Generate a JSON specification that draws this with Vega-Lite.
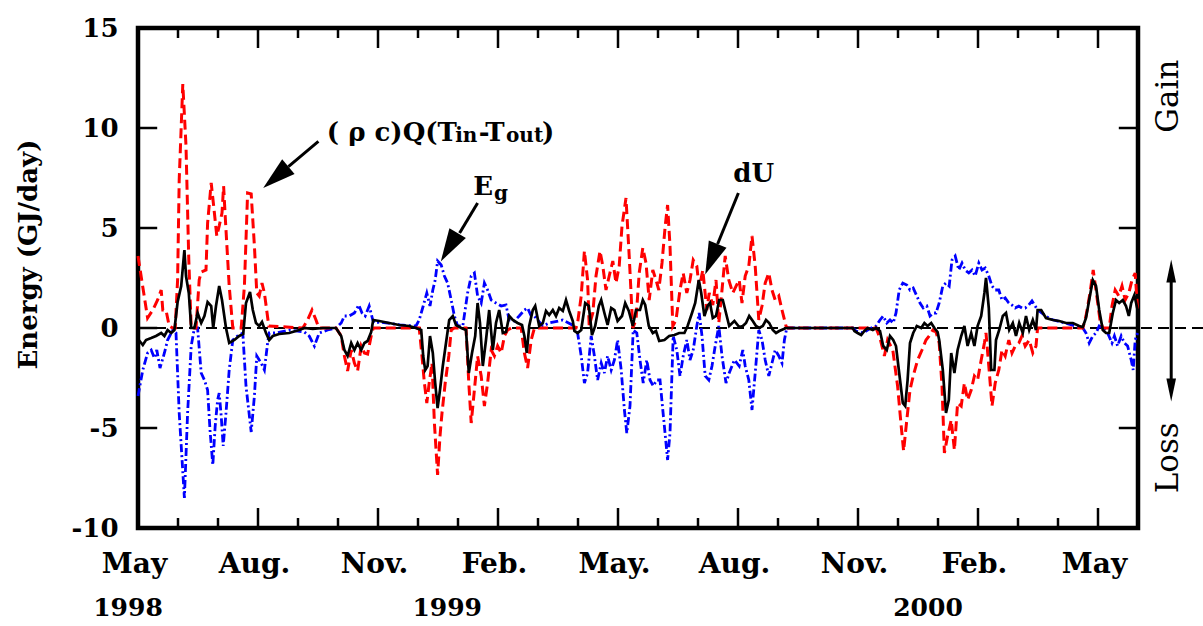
{
"$schema": "https://vega.github.io/schema/vega-lite/v6.json",
"width": 1000, "height": 500,
"autosize": {"type": "none"},
"padding": {"left": 138, "top": 28, "right": 65, "bottom": 98},
"background": "white",
"config": {"view": {"stroke": "black", "strokeWidth": 4.5}, "font": "DejaVu Serif"},
"datasets": {
"zero": [{"m":0,"v":0},{"m":26.63,"v":0}],
"months": [{"m":0},{"m":1},{"m":2},{"m":3},{"m":4},{"m":5},{"m":6},{"m":7},{"m":8},{"m":9},{"m":10},{"m":11},{"m":12},{"m":13},{"m":14},{"m":15},{"m":16},{"m":17},{"m":18},{"m":19},{"m":20},{"m":21},{"m":22},{"m":23},{"m":24},{"m":25}],
"yt": [{"v":-5},{"v":0},{"v":5},{"v":10}],
"red": [{"m":0,"v":3.6},{"m":0.24,"v":0.5},{"m":0.37,"v":0.9},{"m":0.49,"v":1.4},{"m":0.58,"v":1.9},{"m":0.62,"v":0.9},{"m":0.70,"v":0.9},{"m":0.78,"v":0.1},{"m":0.87,"v":0},{"m":0.93,"v":0},{"m":0.99,"v":2.4},{"m":1.03,"v":7.4},{"m":1.12,"v":12.2},{"m":1.20,"v":9.1},{"m":1.27,"v":3.4},{"m":1.33,"v":0},{"m":1.45,"v":0},{"m":1.53,"v":2.4},{"m":1.58,"v":2.8},{"m":1.70,"v":2.9},{"m":1.74,"v":5.25},{"m":1.83,"v":7.25},{"m":1.91,"v":5.75},{"m":1.97,"v":4.6},{"m":2.03,"v":5.1},{"m":2.10,"v":5.75},{"m":2.14,"v":7.1},{"m":2.18,"v":5.6},{"m":2.28,"v":2.1},{"m":2.37,"v":0},{"m":2.58,"v":0},{"m":2.66,"v":2.1},{"m":2.74,"v":6.75},{"m":2.83,"v":6.7},{"m":2.91,"v":4.1},{"m":2.97,"v":1.75},{"m":3.03,"v":1.6},{"m":3.10,"v":2.25},{"m":3.16,"v":1.75},{"m":3.27,"v":0.1},{"m":4.12,"v":0},{"m":4.24,"v":0.4},{"m":4.35,"v":0.9},{"m":4.45,"v":0.4},{"m":4.52,"v":0},{"m":4.95,"v":0},{"m":5.08,"v":-0.4},{"m":5.16,"v":-1.4},{"m":5.24,"v":-2.15},{"m":5.33,"v":-1.1},{"m":5.41,"v":-1.75},{"m":5.49,"v":-2.15},{"m":5.58,"v":-0.9},{"m":5.66,"v":-1.25},{"m":5.74,"v":-1.3},{"m":5.83,"v":-0.4},{"m":5.88,"v":0},{"m":7.03,"v":0},{"m":7.10,"v":-1.4},{"m":7.16,"v":-2.75},{"m":7.22,"v":-3.75},{"m":7.28,"v":-2.75},{"m":7.35,"v":-1.75},{"m":7.41,"v":-4.75},{"m":7.49,"v":-7.35},{"m":7.55,"v":-5.4},{"m":7.60,"v":-4.25},{"m":7.68,"v":-2.75},{"m":7.77,"v":-1.4},{"m":7.83,"v":-0.1},{"m":7.91,"v":0},{"m":8.20,"v":0},{"m":8.27,"v":-2.75},{"m":8.33,"v":-4.75},{"m":8.41,"v":-3.1},{"m":8.49,"v":-1.4},{"m":8.58,"v":-2.4},{"m":8.66,"v":-3.9},{"m":8.74,"v":-2.75},{"m":8.83,"v":-1.1},{"m":8.91,"v":-1.4},{"m":8.99,"v":-0.9},{"m":9.08,"v":-1.25},{"m":9.16,"v":-0.4},{"m":9.24,"v":-0.1},{"m":9.33,"v":0},{"m":9.58,"v":0},{"m":9.66,"v":-1.25},{"m":9.74,"v":-2.0},{"m":9.83,"v":-0.6},{"m":9.91,"v":0},{"m":10.95,"v":0},{"m":10.99,"v":0.25},{"m":11.08,"v":1.6},{"m":11.16,"v":3.85},{"m":11.24,"v":2.4},{"m":11.28,"v":0.1},{"m":11.37,"v":0.75},{"m":11.45,"v":2.6},{"m":11.55,"v":3.85},{"m":11.62,"v":3.1},{"m":11.70,"v":1.9},{"m":11.78,"v":2.6},{"m":11.87,"v":3.35},{"m":11.95,"v":2.25},{"m":12.03,"v":3.1},{"m":12.10,"v":5.1},{"m":12.20,"v":6.5},{"m":12.28,"v":3.6},{"m":12.37,"v":0},{"m":12.45,"v":0.4},{"m":12.53,"v":2.75},{"m":12.62,"v":4.0},{"m":12.70,"v":3.25},{"m":12.78,"v":1.4},{"m":12.87,"v":2.9},{"m":12.95,"v":2.4},{"m":13.02,"v":1.9},{"m":13.10,"v":3.25},{"m":13.18,"v":5.1},{"m":13.24,"v":6.15},{"m":13.30,"v":4.1},{"m":13.37,"v":0.1},{"m":13.45,"v":0.4},{"m":13.55,"v":1.9},{"m":13.63,"v":2.75},{"m":13.72,"v":1.75},{"m":13.80,"v":2.4},{"m":13.88,"v":3.4},{"m":13.97,"v":3.1},{"m":14.03,"v":2.0},{"m":14.12,"v":2.9},{"m":14.22,"v":0.9},{"m":14.28,"v":1.75},{"m":14.37,"v":1.15},{"m":14.45,"v":2.4},{"m":14.52,"v":0.25},{"m":14.60,"v":1.9},{"m":14.68,"v":3.6},{"m":14.77,"v":2.4},{"m":14.87,"v":1.75},{"m":14.99,"v":2.25},{"m":15.03,"v":2.4},{"m":15.10,"v":1.25},{"m":15.18,"v":2.6},{"m":15.27,"v":3.1},{"m":15.35,"v":4.6},{"m":15.43,"v":3.1},{"m":15.52,"v":0.4},{"m":15.60,"v":1.1},{"m":15.68,"v":2.25},{"m":15.77,"v":2.75},{"m":15.85,"v":1.9},{"m":15.93,"v":1.4},{"m":16.02,"v":1.6},{"m":16.10,"v":0.9},{"m":16.20,"v":0.1},{"m":16.25,"v":0},{"m":18.37,"v":0},{"m":18.45,"v":0},{"m":18.55,"v":-0.5},{"m":18.66,"v":-1.4},{"m":18.74,"v":-0.6},{"m":18.87,"v":-1.1},{"m":18.99,"v":-2.9},{"m":19.08,"v":-4.9},{"m":19.14,"v":-6.15},{"m":19.22,"v":-4.6},{"m":19.30,"v":-3.1},{"m":19.38,"v":-2.4},{"m":19.49,"v":-1.6},{"m":19.60,"v":-1.1},{"m":19.70,"v":-0.6},{"m":19.78,"v":-0.4},{"m":19.87,"v":-0.1},{"m":19.95,"v":-0.2},{"m":20.03,"v":-0.75},{"m":20.10,"v":-2.9},{"m":20.16,"v":-6.25},{"m":20.24,"v":-5.4},{"m":20.33,"v":-4.6},{"m":20.41,"v":-6.1},{"m":20.49,"v":-3.75},{"m":20.58,"v":-3.9},{"m":20.66,"v":-2.75},{"m":20.74,"v":-3.6},{"m":20.83,"v":-3.1},{"m":20.91,"v":-2.4},{"m":20.99,"v":-2.6},{"m":21.08,"v":-1.6},{"m":21.16,"v":-0.75},{"m":21.20,"v":-0.25},{"m":21.27,"v":-1.9},{"m":21.35,"v":-3.9},{"m":21.43,"v":-2.75},{"m":21.52,"v":-2.1},{"m":21.60,"v":-1.1},{"m":21.68,"v":-1.4},{"m":21.77,"v":-0.6},{"m":21.85,"v":-1.25},{"m":21.93,"v":-0.9},{"m":22.02,"v":-0.75},{"m":22.10,"v":-0.4},{"m":22.18,"v":-0.9},{"m":22.28,"v":-0.6},{"m":22.37,"v":-1.25},{"m":22.45,"v":-0.9},{"m":22.49,"v":0},{"m":23.62,"v":0},{"m":23.70,"v":0.6},{"m":23.80,"v":1.75},{"m":23.88,"v":2.9},{"m":23.97,"v":1.6},{"m":24.05,"v":0.4},{"m":24.12,"v":0},{"m":24.28,"v":0},{"m":24.35,"v":1.1},{"m":24.43,"v":1.9},{"m":24.52,"v":1.6},{"m":24.60,"v":2.1},{"m":24.68,"v":1.4},{"m":24.77,"v":1.75},{"m":24.85,"v":2.4},{"m":24.93,"v":2.75},{"m":24.99,"v":0.9}],
"blue": [{"m":0,"v":-3.4},{"m":0.12,"v":-2.1},{"m":0.24,"v":-1.25},{"m":0.33,"v":-1.1},{"m":0.41,"v":-1.5},{"m":0.47,"v":-1.1},{"m":0.55,"v":-2.0},{"m":0.66,"v":-1.25},{"m":0.74,"v":-0.6},{"m":0.87,"v":-0.1},{"m":0.95,"v":-0.25},{"m":1.03,"v":-4.25},{"m":1.16,"v":-8.5},{"m":1.24,"v":-4.25},{"m":1.33,"v":-0.9},{"m":1.41,"v":0},{"m":1.49,"v":0},{"m":1.58,"v":-2.25},{"m":1.66,"v":-2.6},{"m":1.74,"v":-3.1},{"m":1.80,"v":-5.1},{"m":1.87,"v":-6.85},{"m":1.93,"v":-4.9},{"m":1.99,"v":-3.6},{"m":2.03,"v":-3.25},{"m":2.08,"v":-4.4},{"m":2.13,"v":-5.9},{"m":2.20,"v":-4.25},{"m":2.28,"v":-2.1},{"m":2.37,"v":-0.6},{"m":2.49,"v":-0.4},{"m":2.62,"v":-0.25},{"m":2.70,"v":-2.9},{"m":2.83,"v":-5.2},{"m":2.91,"v":-3.4},{"m":2.97,"v":-1.4},{"m":3.08,"v":-1.75},{"m":3.16,"v":-2.1},{"m":3.24,"v":-0.75},{"m":3.28,"v":-0.25},{"m":3.45,"v":-0.25},{"m":3.78,"v":-0.1},{"m":4.16,"v":-0.2},{"m":4.28,"v":-0.4},{"m":4.41,"v":-0.9},{"m":4.53,"v":-0.25},{"m":4.74,"v":-0.1},{"m":4.95,"v":0},{"m":5.08,"v":0.25},{"m":5.16,"v":0.6},{"m":5.28,"v":0.6},{"m":5.41,"v":0.75},{"m":5.52,"v":1.15},{"m":5.60,"v":0.75},{"m":5.68,"v":0.6},{"m":5.78,"v":1.1},{"m":5.87,"v":0.4},{"m":5.91,"v":0.25},{"m":6.05,"v":0.3},{"m":6.55,"v":0.15},{"m":6.95,"v":0.1},{"m":7.03,"v":0.4},{"m":7.13,"v":1.1},{"m":7.22,"v":1.75},{"m":7.30,"v":1.1},{"m":7.37,"v":1.9},{"m":7.43,"v":2.4},{"m":7.49,"v":3.35},{"m":7.58,"v":3.15},{"m":7.66,"v":2.6},{"m":7.74,"v":2.25},{"m":7.83,"v":1.4},{"m":7.91,"v":0.6},{"m":7.99,"v":0.1},{"m":8.12,"v":0.1},{"m":8.24,"v":1.75},{"m":8.33,"v":2.6},{"m":8.41,"v":2.75},{"m":8.49,"v":1.6},{"m":8.58,"v":1.25},{"m":8.66,"v":2.25},{"m":8.74,"v":1.9},{"m":8.83,"v":1.4},{"m":8.95,"v":1.25},{"m":9.08,"v":1.1},{"m":9.20,"v":1.15},{"m":9.28,"v":0.4},{"m":9.41,"v":0.35},{"m":9.53,"v":0.6},{"m":9.66,"v":0.9},{"m":9.74,"v":1.0},{"m":9.83,"v":0.6},{"m":9.91,"v":0.6},{"m":9.99,"v":0.4},{"m":10.12,"v":0.1},{"m":10.28,"v":0.25},{"m":10.62,"v":0.4},{"m":10.91,"v":0.1},{"m":10.99,"v":-0.25},{"m":11.08,"v":-1.4},{"m":11.16,"v":-2.75},{"m":11.24,"v":-2.25},{"m":11.33,"v":-0.4},{"m":11.41,"v":-1.4},{"m":11.49,"v":-2.6},{"m":11.58,"v":-1.75},{"m":11.66,"v":-2.25},{"m":11.74,"v":-1.4},{"m":11.83,"v":-2.1},{"m":11.91,"v":-1.6},{"m":11.99,"v":-0.6},{"m":12.08,"v":-2.1},{"m":12.16,"v":-4.1},{"m":12.22,"v":-5.25},{"m":12.30,"v":-3.9},{"m":12.38,"v":-0.1},{"m":12.47,"v":-0.25},{"m":12.55,"v":-1.6},{"m":12.63,"v":-2.75},{"m":12.72,"v":-1.6},{"m":12.80,"v":-2.6},{"m":12.88,"v":-2.9},{"m":12.97,"v":-2.6},{"m":13.05,"v":-2.6},{"m":13.12,"v":-4.1},{"m":13.20,"v":-5.75},{"m":13.24,"v":-6.6},{"m":13.30,"v":-5.25},{"m":13.38,"v":-0.4},{"m":13.47,"v":-1.1},{"m":13.55,"v":-2.4},{"m":13.63,"v":-1.4},{"m":13.72,"v":-0.6},{"m":13.80,"v":-1.6},{"m":13.88,"v":-1.1},{"m":13.97,"v":0.1},{"m":14.03,"v":0.75},{"m":14.10,"v":-0.4},{"m":14.18,"v":-2.4},{"m":14.27,"v":-2.6},{"m":14.35,"v":-1.9},{"m":14.43,"v":-0.9},{"m":14.52,"v":0.1},{"m":14.60,"v":-1.4},{"m":14.70,"v":-2.75},{"m":14.78,"v":-2.25},{"m":14.91,"v":-1.6},{"m":15.03,"v":-1.9},{"m":15.12,"v":-1.1},{"m":15.18,"v":-1.9},{"m":15.27,"v":-2.6},{"m":15.35,"v":-4.1},{"m":15.43,"v":-2.25},{"m":15.52,"v":-0.1},{"m":15.60,"v":-0.6},{"m":15.68,"v":-1.6},{"m":15.77,"v":-2.4},{"m":15.85,"v":-1.75},{"m":15.93,"v":-1.1},{"m":16.02,"v":-1.4},{"m":16.10,"v":-1.75},{"m":16.16,"v":-0.6},{"m":16.22,"v":0},{"m":17.87,"v":0},{"m":17.95,"v":-0.15},{"m":18.12,"v":-0.25},{"m":18.28,"v":-0.05},{"m":18.45,"v":0.1},{"m":18.55,"v":0.4},{"m":18.63,"v":0.6},{"m":18.72,"v":0.25},{"m":18.80,"v":0.4},{"m":18.88,"v":0.25},{"m":18.95,"v":0.75},{"m":19.03,"v":1.9},{"m":19.12,"v":2.25},{"m":19.22,"v":2.15},{"m":19.30,"v":1.9},{"m":19.38,"v":2.0},{"m":19.47,"v":1.6},{"m":19.55,"v":1.25},{"m":19.63,"v":1.0},{"m":19.72,"v":1.1},{"m":19.80,"v":0.6},{"m":19.88,"v":0.75},{"m":19.95,"v":0.75},{"m":20.03,"v":1.25},{"m":20.12,"v":2.1},{"m":20.20,"v":2.25},{"m":20.28,"v":2.1},{"m":20.35,"v":3.4},{"m":20.43,"v":3.6},{"m":20.52,"v":2.9},{"m":20.60,"v":3.25},{"m":20.68,"v":2.9},{"m":20.77,"v":2.75},{"m":20.85,"v":2.9},{"m":20.93,"v":2.6},{"m":21.02,"v":3.25},{"m":21.10,"v":2.9},{"m":21.18,"v":3.0},{"m":21.27,"v":2.6},{"m":21.35,"v":2.1},{"m":21.43,"v":1.9},{"m":21.52,"v":1.9},{"m":21.60,"v":1.4},{"m":21.68,"v":1.5},{"m":21.77,"v":1.25},{"m":21.85,"v":1.15},{"m":21.93,"v":1.0},{"m":22.02,"v":1.1},{"m":22.10,"v":1.0},{"m":22.18,"v":1.0},{"m":22.27,"v":1.15},{"m":22.35,"v":1.35},{"m":22.43,"v":1.1},{"m":22.49,"v":0.9},{"m":22.80,"v":0.45},{"m":23.18,"v":0.25},{"m":23.62,"v":0},{"m":23.70,"v":-0.25},{"m":23.78,"v":-0.75},{"m":23.87,"v":-0.4},{"m":23.95,"v":-0.25},{"m":24.03,"v":0.1},{"m":24.12,"v":0},{"m":24.24,"v":-0.25},{"m":24.35,"v":-0.75},{"m":24.41,"v":-0.4},{"m":24.49,"v":-0.9},{"m":24.58,"v":-0.4},{"m":24.66,"v":-0.75},{"m":24.74,"v":-0.9},{"m":24.83,"v":-1.6},{"m":24.88,"v":-2.1},{"m":24.93,"v":-0.6},{"m":24.99,"v":-0.25}],
"black": [{"m":0.02,"v":-0.6},{"m":0.12,"v":-0.85},{"m":0.20,"v":-0.6},{"m":0.33,"v":-0.5},{"m":0.45,"v":-0.4},{"m":0.58,"v":-0.25},{"m":0.66,"v":-0.4},{"m":0.74,"v":-0.1},{"m":0.83,"v":-0.25},{"m":0.91,"v":-0.1},{"m":0.99,"v":1.3},{"m":1.08,"v":2.1},{"m":1.16,"v":3.9},{"m":1.20,"v":2.6},{"m":1.27,"v":1.75},{"m":1.33,"v":0},{"m":1.41,"v":0},{"m":1.49,"v":0.75},{"m":1.58,"v":0.25},{"m":1.66,"v":0.6},{"m":1.74,"v":1.3},{"m":1.83,"v":1.1},{"m":1.88,"v":0},{"m":1.95,"v":1.1},{"m":2.03,"v":2.1},{"m":2.10,"v":1.4},{"m":2.20,"v":0},{"m":2.28,"v":-0.75},{"m":2.41,"v":-0.6},{"m":2.53,"v":-0.4},{"m":2.63,"v":-0.3},{"m":2.70,"v":1.25},{"m":2.80,"v":1.8},{"m":2.87,"v":0.9},{"m":2.95,"v":0.25},{"m":3.03,"v":0.1},{"m":3.10,"v":0.3},{"m":3.20,"v":-0.25},{"m":3.28,"v":-0.6},{"m":3.37,"v":-0.4},{"m":3.53,"v":-0.3},{"m":3.78,"v":-0.25},{"m":4.03,"v":-0.1},{"m":4.16,"v":0},{"m":4.37,"v":-0.05},{"m":4.62,"v":0},{"m":4.95,"v":0},{"m":5.08,"v":-0.4},{"m":5.16,"v":-1.1},{"m":5.24,"v":-1.4},{"m":5.33,"v":-0.75},{"m":5.41,"v":-1.1},{"m":5.49,"v":-0.75},{"m":5.58,"v":-1.1},{"m":5.66,"v":-0.75},{"m":5.74,"v":-0.65},{"m":5.83,"v":-0.2},{"m":5.88,"v":0.4},{"m":6.03,"v":0.35},{"m":6.28,"v":0.25},{"m":6.53,"v":0.15},{"m":6.78,"v":0.1},{"m":6.95,"v":0},{"m":7.08,"v":-0.1},{"m":7.13,"v":-1.4},{"m":7.18,"v":-2.1},{"m":7.24,"v":-1.9},{"m":7.30,"v":-0.4},{"m":7.37,"v":-1.25},{"m":7.43,"v":-2.75},{"m":7.49,"v":-4.0},{"m":7.55,"v":-3.1},{"m":7.62,"v":-1.9},{"m":7.70,"v":-0.75},{"m":7.78,"v":0.4},{"m":7.87,"v":0.6},{"m":7.95,"v":0.15},{"m":8.08,"v":0},{"m":8.20,"v":-0.1},{"m":8.27,"v":-2.25},{"m":8.35,"v":-1.25},{"m":8.43,"v":-0.4},{"m":8.49,"v":1.25},{"m":8.55,"v":0.25},{"m":8.62,"v":-1.9},{"m":8.70,"v":-0.6},{"m":8.78,"v":0.9},{"m":8.87,"v":-1.1},{"m":8.95,"v":0.25},{"m":9.03,"v":0.9},{"m":9.12,"v":-0.25},{"m":9.20,"v":-0.2},{"m":9.28,"v":0.6},{"m":9.37,"v":0.4},{"m":9.49,"v":0.25},{"m":9.60,"v":0.15},{"m":9.66,"v":-0.4},{"m":9.72,"v":-1.25},{"m":9.78,"v":0.1},{"m":9.87,"v":0.9},{"m":9.93,"v":1.1},{"m":10.03,"v":0.1},{"m":10.12,"v":0.25},{"m":10.20,"v":0.85},{"m":10.28,"v":0.65},{"m":10.37,"v":0.9},{"m":10.45,"v":0.6},{"m":10.53,"v":1.0},{"m":10.62,"v":0.85},{"m":10.70,"v":1.4},{"m":10.78,"v":0.85},{"m":10.87,"v":0.35},{"m":10.91,"v":-0.15},{"m":10.99,"v":-0.25},{"m":11.08,"v":-0.1},{"m":11.18,"v":1.25},{"m":11.27,"v":1.1},{"m":11.35,"v":-0.35},{"m":11.43,"v":0.1},{"m":11.52,"v":1.1},{"m":11.58,"v":1.4},{"m":11.66,"v":0.75},{"m":11.74,"v":0.15},{"m":11.83,"v":1.0},{"m":11.91,"v":0.9},{"m":11.99,"v":0.35},{"m":12.10,"v":0.6},{"m":12.18,"v":1.25},{"m":12.27,"v":0.85},{"m":12.37,"v":0.1},{"m":12.45,"v":0.9},{"m":12.55,"v":0.9},{"m":12.62,"v":1.4},{"m":12.68,"v":1.15},{"m":12.77,"v":0.1},{"m":12.87,"v":-0.25},{"m":12.95,"v":-0.15},{"m":13.03,"v":-0.65},{"m":13.16,"v":-0.6},{"m":13.28,"v":-0.4},{"m":13.41,"v":-0.35},{"m":13.53,"v":-0.25},{"m":13.66,"v":-0.25},{"m":13.74,"v":0.1},{"m":13.85,"v":0.75},{"m":13.93,"v":1.25},{"m":14.02,"v":2.4},{"m":14.08,"v":1.75},{"m":14.16,"v":0.6},{"m":14.24,"v":1.1},{"m":14.30,"v":1.25},{"m":14.37,"v":0.5},{"m":14.45,"v":0.6},{"m":14.53,"v":1.4},{"m":14.62,"v":1.4},{"m":14.70,"v":0.75},{"m":14.78,"v":0.1},{"m":14.91,"v":0.35},{"m":15.03,"v":0.05},{"m":15.12,"v":0.1},{"m":15.20,"v":0.25},{"m":15.28,"v":0.6},{"m":15.37,"v":0.35},{"m":15.45,"v":0.1},{"m":15.53,"v":0},{"m":15.62,"v":0.1},{"m":15.70,"v":0.4},{"m":15.78,"v":0.25},{"m":15.87,"v":-0.1},{"m":15.95,"v":-0.25},{"m":16.03,"v":-0.15},{"m":16.20,"v":0},{"m":17.87,"v":0},{"m":17.91,"v":-0.15},{"m":17.99,"v":-0.25},{"m":18.08,"v":-0.35},{"m":18.16,"v":-0.15},{"m":18.24,"v":0},{"m":18.37,"v":-0.1},{"m":18.45,"v":0},{"m":18.55,"v":-0.15},{"m":18.63,"v":-0.9},{"m":18.72,"v":-1.1},{"m":18.80,"v":-0.4},{"m":18.88,"v":-0.6},{"m":18.95,"v":-0.9},{"m":19.03,"v":-2.25},{"m":19.12,"v":-3.75},{"m":19.18,"v":-3.9},{"m":19.24,"v":-2.6},{"m":19.30,"v":-0.75},{"m":19.38,"v":-0.25},{"m":19.47,"v":0.1},{"m":19.58,"v":0},{"m":19.66,"v":0.25},{"m":19.74,"v":0.1},{"m":19.83,"v":0.25},{"m":19.91,"v":0},{"m":19.99,"v":-0.2},{"m":20.03,"v":-0.6},{"m":20.12,"v":-2.1},{"m":20.20,"v":-4.25},{"m":20.27,"v":-3.6},{"m":20.33,"v":-1.25},{"m":20.41,"v":-2.25},{"m":20.49,"v":-1.1},{"m":20.58,"v":-0.4},{"m":20.66,"v":0.1},{"m":20.74,"v":-0.9},{"m":20.83,"v":-0.25},{"m":20.91,"v":-0.9},{"m":20.99,"v":0.1},{"m":21.08,"v":0.6},{"m":21.16,"v":1.75},{"m":21.20,"v":2.5},{"m":21.27,"v":1.0},{"m":21.33,"v":-2.1},{"m":21.41,"v":-2.1},{"m":21.45,"v":-0.6},{"m":21.53,"v":-0.1},{"m":21.62,"v":0.6},{"m":21.70,"v":0.75},{"m":21.78,"v":-0.1},{"m":21.87,"v":0.25},{"m":21.95,"v":-0.4},{"m":22.03,"v":0.25},{"m":22.12,"v":-0.25},{"m":22.20,"v":0.6},{"m":22.28,"v":-0.1},{"m":22.37,"v":0.4},{"m":22.45,"v":-0.1},{"m":22.49,"v":0.9},{"m":22.58,"v":0.9},{"m":22.70,"v":0.5},{"m":22.87,"v":0.4},{"m":23.03,"v":0.35},{"m":23.20,"v":0.25},{"m":23.37,"v":0.25},{"m":23.53,"v":0.1},{"m":23.62,"v":0.05},{"m":23.70,"v":0.5},{"m":23.78,"v":1.4},{"m":23.87,"v":2.4},{"m":23.95,"v":2.1},{"m":24.03,"v":0.9},{"m":24.12,"v":-0.1},{"m":24.20,"v":-0.25},{"m":24.28,"v":-0.25},{"m":24.37,"v":0.75},{"m":24.45,"v":1.4},{"m":24.53,"v":1.25},{"m":24.62,"v":1.4},{"m":24.70,"v":1.1},{"m":24.77,"v":0.6},{"m":24.83,"v":1.25},{"m":24.91,"v":1.65},{"m":24.99,"v":0.9}],
"annBig": [{"m":4.72,"v":9.34,"t":"( ρ c)Q(T"},{"m":8.52,"v":9.34,"t":"-T"},{"m":10.1,"v":9.34,"t":")"},{"m":8.38,"v":6.67,"t":"E"},{"m":14.88,"v":7.32,"t":"dU"}],
"annSub": [{"m":7.93,"v":9.3,"t":"in"},{"m":9.2,"v":9.3,"t":"out"},{"m":8.9,"v":6.42,"t":"g"}],
"years": [{"m":-0.25,"v":-13.99,"t":"1998"},{"m":7.73,"v":-13.99,"t":"1999"},{"m":19.75,"v":-13.99,"t":"2000"}],
"side": [{"m":25.78,"v":11.59,"t":"Gain"},{"m":25.78,"v":-6.49,"t":"Loss"}],
"shafts": [{"m0":4.51,"v0":9.33,"m1":3.76,"v1":8.07},{"m0":8.49,"v0":6.25,"m1":8.04,"v1":4.75},{"m0":15.01,"v0":6.75,"m1":14.49,"v1":4.2},{"m0":25.83,"v0":2.3,"m1":25.83,"v1":-2.55}],
"heads": [{"id":"a1","m":3.13,"v":7.0},{"id":"a2","m":7.57,"v":3.33},{"id":"a3","m":14.18,"v":2.67},{"id":"up","m":25.83,"v":3.42},{"id":"down","m":25.83,"v":-3.67}]
},
"layer": [
{"data": {"name": "zero"},
 "mark": {"type": "line", "color": "black", "strokeWidth": 2, "strokeDash": [11, 6], "clip": false},
 "encoding": {
  "x": {"field": "m", "type": "quantitative", "scale": {"domain": [0, 25], "nice": false, "zero": false},
   "axis": {"values": [0,3,6,9,12,15,18,21,24], "labelExpr": "['May','Aug.','Nov.','Feb.','May.','Aug.','Nov.','Feb.','May'][round(datum.value/3)]", "ticks": false, "domain": false, "grid": false, "title": null, "labelFont": "DejaVu Serif", "labelFontWeight": "bold", "labelFontSize": 28, "labelColor": "black", "labelPadding": 22, "labelFlush": false, "labelOverlap": false, "labelOffset": -4}},
  "y": {"field": "v", "type": "quantitative", "scale": {"domain": [-10, 15], "nice": false, "zero": false},
   "axis": {"values": [-10,-5,0,5,10,15], "labelExpr": "'' + datum.value", "ticks": false, "domain": false, "grid": false, "title": "Energy (GJ/day)", "titleFont": "DejaVu Serif", "titleFontWeight": "bold", "titleFontSize": 26, "titleColor": "black", "titleX": -110, "titleY": 226, "titleAngle": 270, "titleAlign": "center", "titleBaseline": "middle", "labelFont": "DejaVu Serif", "labelFontWeight": "bold", "labelFontSize": 26, "labelColor": "black", "labelPadding": 20, "labelOverlap": false, "labelFlush": false}}
 }},
{"data": {"name": "months"}, "transform": [{"filter": "datum.m % 3 != 0"}],
 "mark": {"type": "rule", "color": "black", "strokeWidth": 2.5},
 "encoding": {"x": {"field": "m", "type": "quantitative"}, "y": {"datum": -10, "type": "quantitative"}, "y2": {"datum": -9.5}}},
{"data": {"name": "months"}, "transform": [{"filter": "datum.m % 3 == 0"}],
 "mark": {"type": "rule", "color": "black", "strokeWidth": 2.5},
 "encoding": {"x": {"field": "m", "type": "quantitative"}, "y": {"datum": -10, "type": "quantitative"}, "y2": {"datum": -9.0}}},
{"data": {"name": "months"}, "transform": [{"filter": "datum.m % 3 != 0"}],
 "mark": {"type": "rule", "color": "black", "strokeWidth": 2.5},
 "encoding": {"x": {"field": "m", "type": "quantitative"}, "y": {"datum": 15, "type": "quantitative"}, "y2": {"datum": 14.5}}},
{"data": {"name": "months"}, "transform": [{"filter": "datum.m % 3 == 0"}],
 "mark": {"type": "rule", "color": "black", "strokeWidth": 2.5},
 "encoding": {"x": {"field": "m", "type": "quantitative"}, "y": {"datum": 15, "type": "quantitative"}, "y2": {"datum": 14.0}}},
{"data": {"name": "yt"},
 "mark": {"type": "rule", "color": "black", "strokeWidth": 2.5},
 "encoding": {"y": {"field": "v", "type": "quantitative"}, "x": {"datum": 0, "type": "quantitative"}, "x2": {"datum": 0.48}}},
{"data": {"name": "yt"},
 "mark": {"type": "rule", "color": "black", "strokeWidth": 2.5},
 "encoding": {"y": {"field": "v", "type": "quantitative"}, "x": {"datum": 25, "type": "quantitative"}, "x2": {"datum": 24.52}}},
{"data": {"name": "blue"},
 "mark": {"type": "line", "color": "#0000ff", "strokeWidth": 2.8, "strokeDash": [8, 3, 2, 3]},
 "encoding": {"x": {"field": "m", "type": "quantitative"}, "y": {"field": "v", "type": "quantitative"}}},
{"data": {"name": "red"},
 "mark": {"type": "line", "color": "#ff0000", "strokeWidth": 3, "strokeDash": [10, 5]},
 "encoding": {"x": {"field": "m", "type": "quantitative"}, "y": {"field": "v", "type": "quantitative"}}},
{"data": {"name": "black"},
 "mark": {"type": "line", "color": "black", "strokeWidth": 2.7},
 "encoding": {"x": {"field": "m", "type": "quantitative"}, "y": {"field": "v", "type": "quantitative"}}},
{"data": {"name": "annBig"},
 "mark": {"type": "text", "font": "DejaVu Serif", "fontWeight": "bold", "fontSize": 26, "align": "left", "baseline": "alphabetic", "color": "black", "clip": false},
 "encoding": {"x": {"field": "m", "type": "quantitative"}, "y": {"field": "v", "type": "quantitative"}, "text": {"field": "t"}}},
{"data": {"name": "annSub"},
 "mark": {"type": "text", "font": "DejaVu Serif", "fontWeight": "bold", "fontSize": 20, "align": "left", "baseline": "alphabetic", "color": "black", "clip": false},
 "encoding": {"x": {"field": "m", "type": "quantitative"}, "y": {"field": "v", "type": "quantitative"}, "text": {"field": "t"}}},
{"data": {"name": "years"},
 "mark": {"type": "text", "font": "DejaVu Serif", "fontWeight": "bold", "fontSize": 25, "align": "center", "baseline": "middle", "color": "black", "clip": false},
 "encoding": {"x": {"field": "m", "type": "quantitative"}, "y": {"field": "v", "type": "quantitative"}, "text": {"field": "t"}}},
{"data": {"name": "side"},
 "mark": {"type": "text", "font": "DejaVu Serif", "fontSize": 31, "angle": 270, "align": "center", "baseline": "middle", "color": "black", "clip": false},
 "encoding": {"x": {"field": "m", "type": "quantitative"}, "y": {"field": "v", "type": "quantitative"}, "text": {"field": "t"}}},
{"data": {"name": "shafts"},
 "mark": {"type": "rule", "color": "black", "strokeWidth": 3, "clip": false},
 "encoding": {"x": {"field": "m0", "type": "quantitative"}, "y": {"field": "v0", "type": "quantitative"}, "x2": {"field": "m1"}, "y2": {"field": "v1"}}},
{"data": {"name": "heads"}, "transform": [{"filter": "datum.id == 'a1'"}],
 "mark": {"type": "point", "shape": "M0,0L0.58,2L-0.58,2Z", "size": 1089, "angle": 229.7, "filled": true, "color": "black", "opacity": 1, "strokeWidth": 0, "clip": false},
 "encoding": {"x": {"field": "m", "type": "quantitative"}, "y": {"field": "v", "type": "quantitative"}}},
{"data": {"name": "heads"}, "transform": [{"filter": "datum.id == 'a2'"}],
 "mark": {"type": "point", "shape": "M0,0L0.58,2L-0.58,2Z", "size": 1089, "angle": 210.7, "filled": true, "color": "black", "opacity": 1, "strokeWidth": 0, "clip": false},
 "encoding": {"x": {"field": "m", "type": "quantitative"}, "y": {"field": "v", "type": "quantitative"}}},
{"data": {"name": "heads"}, "transform": [{"filter": "datum.id == 'a3'"}],
 "mark": {"type": "point", "shape": "M0,0L0.58,2L-0.58,2Z", "size": 1089, "angle": 202.2, "filled": true, "color": "black", "opacity": 1, "strokeWidth": 0, "clip": false},
 "encoding": {"x": {"field": "m", "type": "quantitative"}, "y": {"field": "v", "type": "quantitative"}}},
{"data": {"name": "heads"}, "transform": [{"filter": "datum.id == 'up'"}],
 "mark": {"type": "point", "shape": "M0,0L0.42,2L-0.42,2Z", "size": 529, "angle": 0, "filled": true, "color": "black", "opacity": 1, "strokeWidth": 0, "clip": false},
 "encoding": {"x": {"field": "m", "type": "quantitative"}, "y": {"field": "v", "type": "quantitative"}}},
{"data": {"name": "heads"}, "transform": [{"filter": "datum.id == 'down'"}],
 "mark": {"type": "point", "shape": "M0,0L0.42,2L-0.42,2Z", "size": 529, "angle": 180, "filled": true, "color": "black", "opacity": 1, "strokeWidth": 0, "clip": false},
 "encoding": {"x": {"field": "m", "type": "quantitative"}, "y": {"field": "v", "type": "quantitative"}}}
]
}
